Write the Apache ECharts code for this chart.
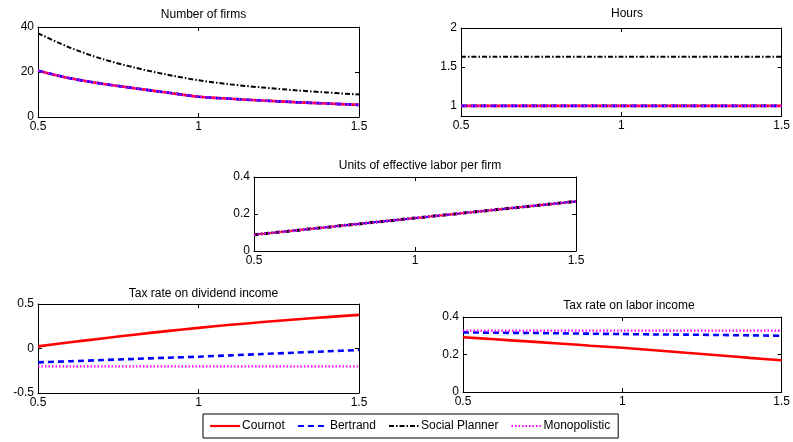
<!DOCTYPE html>
<html>
<head>
<meta charset="utf-8">
<script src="https://cdn.jsdelivr.net/npm/echarts@6/dist/echarts.min.js"></script>
<style>html,body{margin:0;padding:0;background:#fff}#c{width:793px;height:442px}</style>
</head>
<body>
<div id="c"></div>
<script>
// ---- data ----
const xValues = [0.5, 0.6, 0.7, 0.8, 0.9, 1.0, 1.1, 1.2, 1.3, 1.4, 1.5];
const xTicks = [0.5, 1, 1.5];
const seriesNames = ['Cournot', 'Bertrand', 'Social Planner', 'Monopolistic'];
const panelTitles = ['Number of firms', 'Hours', 'Units of effective labor per firm', 'Tax rate on dividend income', 'Tax rate on labor income'];

const firmsCournot   = [20.6, 17.2, 14.8, 12.8, 10.9, 9.0, 8.1, 7.3, 6.6, 6.0, 5.4];
const firmsBertrand  = [20.6, 17.2, 14.8, 12.8, 10.9, 9.0, 8.1, 7.3, 6.6, 6.0, 5.4];
const firmsPlanner   = [37.2, 30.8, 25.8, 22.0, 18.9, 16.3, 14.5, 13.1, 11.9, 10.9, 10.0];
const firmsMono      = [20.6, 17.2, 14.8, 12.8, 10.9, 9.0, 8.1, 7.3, 6.6, 6.0, 5.4];

const hoursCournot   = [1.0, 1.0, 1.0, 1.0, 1.0, 1.0, 1.0, 1.0, 1.0, 1.0, 1.0];
const hoursBertrand  = [1.0, 1.0, 1.0, 1.0, 1.0, 1.0, 1.0, 1.0, 1.0, 1.0, 1.0];
const hoursPlanner   = [1.63, 1.63, 1.63, 1.63, 1.63, 1.63, 1.63, 1.63, 1.63, 1.63, 1.63];
const hoursMono      = [1.0, 1.0, 1.0, 1.0, 1.0, 1.0, 1.0, 1.0, 1.0, 1.0, 1.0];

const laborCournot   = [0.088, 0.106, 0.124, 0.142, 0.160, 0.178, 0.196, 0.214, 0.232, 0.250, 0.268];
const laborBertrand  = [0.088, 0.106, 0.124, 0.142, 0.160, 0.178, 0.196, 0.214, 0.232, 0.250, 0.268];
const laborPlanner   = [0.088, 0.106, 0.124, 0.142, 0.160, 0.178, 0.196, 0.214, 0.232, 0.250, 0.268];
const laborMono      = [0.088, 0.106, 0.124, 0.142, 0.160, 0.178, 0.196, 0.214, 0.232, 0.250, 0.268];

const divCournot     = [0.024, 0.070, 0.113, 0.155, 0.195, 0.232, 0.266, 0.297, 0.326, 0.353, 0.378];
const divBertrand    = [-0.156, -0.143, -0.130, -0.117, -0.104, -0.092, -0.077, -0.062, -0.047, -0.032, -0.017];
const divMono        = [-0.20, -0.20, -0.20, -0.20, -0.20, -0.20, -0.20, -0.20, -0.20, -0.20, -0.20];

const labCournot     = [0.292, 0.281, 0.270, 0.259, 0.247, 0.236, 0.223, 0.209, 0.196, 0.182, 0.169];
const labBertrand    = [0.318, 0.316, 0.315, 0.313, 0.311, 0.309, 0.307, 0.306, 0.304, 0.302, 0.300];
const labMono        = [0.327, 0.327, 0.327, 0.327, 0.327, 0.327, 0.327, 0.327, 0.327, 0.327, 0.327];

const yTicks = [[0, 20, 40], [1, 1.5, 2], [0, 0.2, 0.4], [-0.5, 0, 0.5], [0, 0.2, 0.4]];
const yRange = [[0, 40], [0.87, 2], [0, 0.4], [-0.5, 0.5], [0, 0.4]];

// ---- layout / styles ----
const grids = [
  {left: 38, top: 27, width: 321, height: 90},
  {left: 461, top: 28, width: 322, height: 88},
  {left: 254, top: 177, width: 322, height: 74},
  {left: 38, top: 304, width: 321, height: 89},
  {left: 463, top: 317, width: 322, height: 75}
];
const titleTops = [4, 3, 155, 283, 295];
const FONT = 'Liberation Sans, Arial, sans-serif';

const styles = {
  'Cournot': {color: '#ff0000', width: 2.6, type: 'solid'},
  'Bertrand': {color: '#0000ff', width: 2.6, type: [6, 4]},
  'Social Planner': {color: '#000000', width: 2, type: [5, 2, 1.5, 2]},
  'Monopolistic': {color: '#ff00ff', width: 2.2, type: [1.5, 2]}
};
// in the labor-per-firm panel the planner/monopolistic lines hide the others
const widthOverride = {2: {'Cournot': 1.8, 'Bertrand': 1.8, 'Social Planner': 3, 'Monopolistic': 2.6}};

const panelData = [
  {'Cournot': firmsCournot, 'Bertrand': firmsBertrand, 'Social Planner': firmsPlanner, 'Monopolistic': firmsMono},
  {'Cournot': hoursCournot, 'Bertrand': hoursBertrand, 'Social Planner': hoursPlanner, 'Monopolistic': hoursMono},
  {'Cournot': laborCournot, 'Bertrand': laborBertrand, 'Social Planner': laborPlanner, 'Monopolistic': laborMono},
  {'Cournot': divCournot, 'Bertrand': divBertrand, 'Monopolistic': divMono},
  {'Cournot': labCournot, 'Bertrand': labBertrand, 'Monopolistic': labMono}
];

const xAxis = [], yAxis = [], series = [], title = [];
const lineAxis = {show: true, onZero: false, lineStyle: {color: '#000', width: 1}};
grids.forEach((g, i) => {
  title.push({
    text: panelTitles[i],
    left: g.left + g.width / 2, top: titleTops[i], textAlign: 'center',
    textStyle: {fontFamily: FONT, fontSize: 12, fontWeight: 'normal', color: '#000'}
  });
  xAxis.push({
    gridIndex: i, type: 'value', min: 0.5, max: 1.5, interval: 0.5,
    axisLine: lineAxis, splitLine: {show: false},
    axisTick: {inside: true, length: 4, lineStyle: {color: '#000'}},
    axisLabel: {fontFamily: FONT, fontSize: 12, color: '#000', margin: 4, formatter: v => String(v)}
  });
  xAxis.push({
    gridIndex: i, type: 'value', min: 0.5, max: 1.5, interval: 0.5, position: 'top',
    axisLine: lineAxis, splitLine: {show: false},
    axisTick: {inside: true, length: 4, lineStyle: {color: '#000'}},
    axisLabel: {show: false}
  });
  const yCommon = {
    gridIndex: i, type: 'value', min: yRange[i][0], max: yRange[i][1],
    axisLine: lineAxis, splitLine: {show: false}
  };
  yAxis.push(Object.assign({}, yCommon, {
    position: 'left',
    axisTick: {inside: true, length: 4, lineStyle: {color: '#000'}, customValues: yTicks[i]},
    axisLabel: {fontFamily: FONT, fontSize: 12, color: '#000', margin: 4, customValues: yTicks[i], formatter: v => String(v)}
  }));
  yAxis.push(Object.assign({}, yCommon, {
    position: 'right',
    axisTick: {inside: true, length: 4, lineStyle: {color: '#000'}, customValues: yTicks[i]},
    axisLabel: {show: false}
  }));
  seriesNames.forEach(name => {
    const vals = panelData[i][name];
    if (!vals) return;
    const s = styles[name];
    let w = s.width;
    if (widthOverride[i] && widthOverride[i][name]) w = widthOverride[i][name];
    series.push({
      name: name, type: 'line', xAxisIndex: 2 * i, yAxisIndex: 2 * i,
      data: xValues.map((x, k) => [x, vals[k]]),
      smooth: 0.3, showSymbol: false, symbol: 'none', animation: false,
      lineStyle: {color: s.color, width: w, type: s.type},
      itemStyle: {color: s.color}
    });
  });
});

const chart = echarts.init(document.getElementById('c'), null, {renderer: 'canvas'});
chart.setOption({
  backgroundColor: '#fff',
  animation: false,
  title: title,
  grid: grids,
  xAxis: xAxis,
  yAxis: yAxis,
  legend: {
    data: seriesNames,
    left: 203, top: 414,
    padding: [6, 8, 6, 6],
    itemGap: 12, itemWidth: 30, itemHeight: 12,
    itemStyle: {opacity: 0},
    lineStyle: {width: 2.2},
    borderColor: '#000', borderWidth: 1, backgroundColor: '#fff',
    textStyle: {fontFamily: FONT, fontSize: 12, color: '#000', padding: [0, 0, 0, -3]}
  },
  series: series
});
</script>
</body>
</html>
